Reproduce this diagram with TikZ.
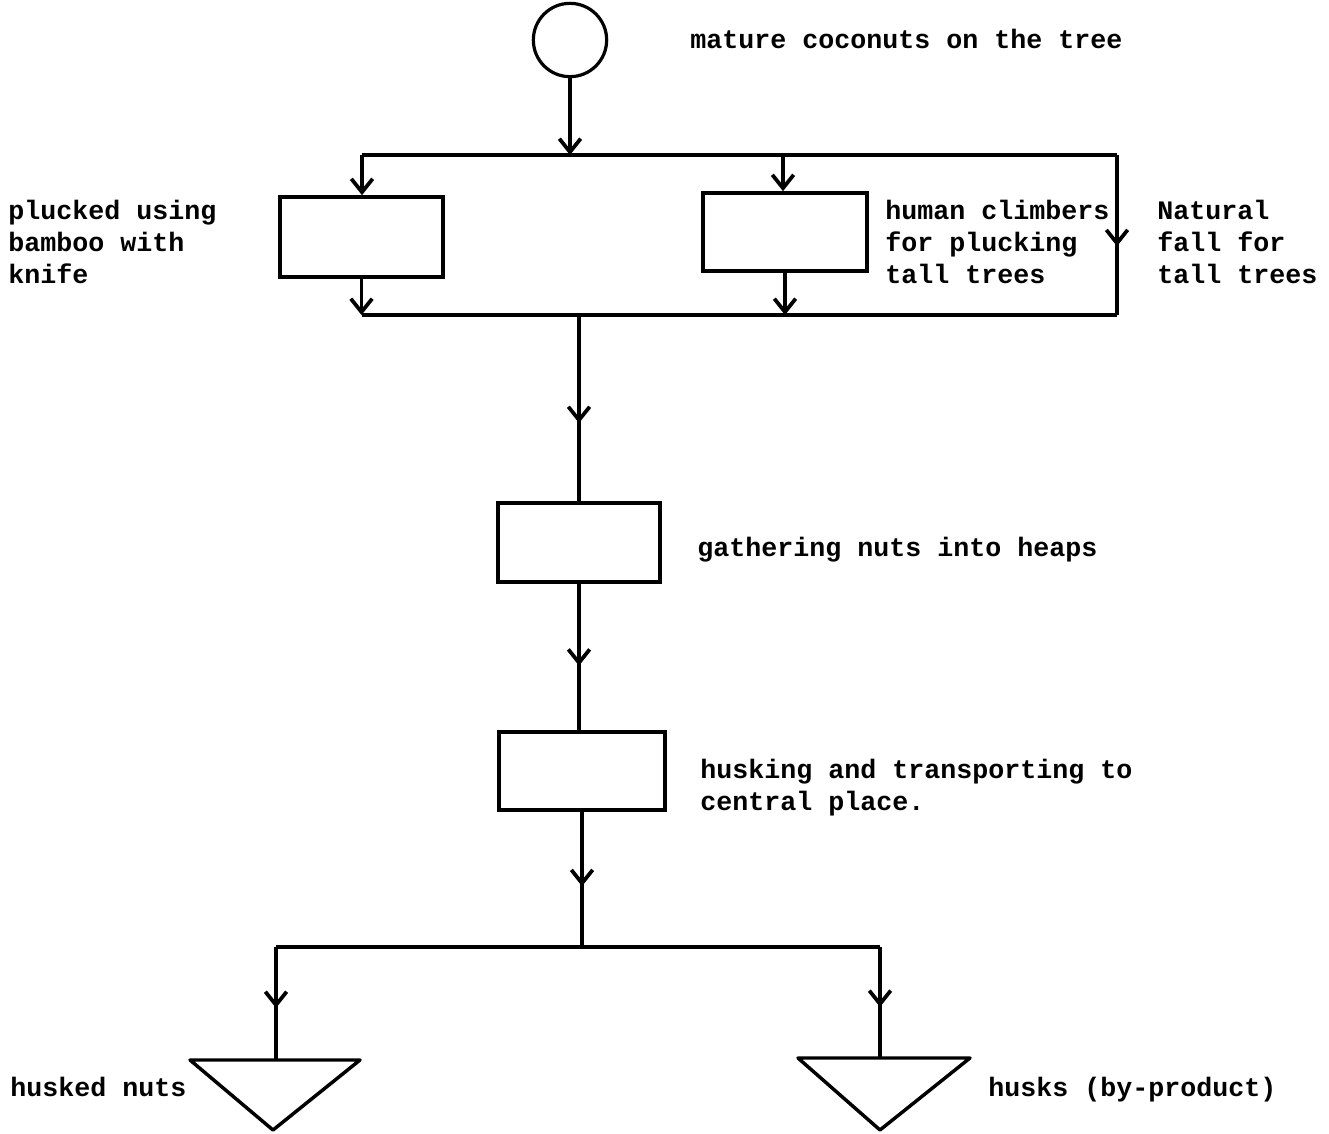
\documentclass[tikz,border=0pt]{standalone}
\usepackage{fontspec}
\setmonofont{Liberation Mono}
\usetikzlibrary{arrows.meta,decorations.markings}
\begin{document}
\begin{tikzpicture}[x=0.75pt,y=-0.75pt,
  vtip/.tip={Straight Barb[length=10pt,width=16pt,line width=2.8pt]},
  conn/.style={line width=2.8pt},
  endarrow/.style={conn,-vtip},
  midarrow/.style={conn,postaction={decorate},
    decoration={markings,mark=at position #1 with {\arrow{vtip}}}},
  stepbox/.style={draw,line width=2.8pt,rectangle,inner sep=0pt},
  label/.style={font=\ttfamily\bfseries\fontsize{20}{24}\selectfont,
    inner sep=0pt,anchor=base west,align=left}]
\useasboundingbox (0,0) rectangle (1329,1133);

% start symbol
\node[draw,circle,line width=2.4pt,minimum size=55pt,inner sep=0pt] (coco) at (570,40) {};

% process boxes
\node[stepbox,minimum width=122pt,minimum height=60pt] (box1) at (361.5,237) {};
\node[stepbox,minimum width=123pt,minimum height=58.5pt] (box2) at (785,232) {};
\node[stepbox,minimum width=121.5pt,minimum height=59pt] (box3) at (579,542.5) {};
\node[stepbox,minimum width=124pt,minimum height=58.5pt] (box4) at (582,771) {};

% branching lines
\coordinate (tl) at (362,155);
\coordinate (tr) at (1117,155);
\coordinate (tj) at (570,155);
\coordinate (t2) at (783,155);
\coordinate (bl) at (362,315);
\coordinate (br) at (1117,315);
\coordinate (bj) at (579,315);
\coordinate (lj) at (582,947);
\coordinate (lb) at (276,947);
\coordinate (rb) at (880,947);

% storage triangles
\coordinate (tri1a) at (190,1060);
\coordinate (tri1b) at (360,1060);
\coordinate (tri1c) at (273,1130);
\coordinate (tri1top) at (276,1060);
\coordinate (tri2a) at (798,1058);
\coordinate (tri2b) at (970,1058);
\coordinate (tri2c) at (880,1130);
\coordinate (tri2top) at (880,1058);
\draw[line width=2.6pt,line join=round] (tri1a) -- (tri1b) -- (tri1c) -- cycle;
\draw[line width=2.6pt,line join=round] (tri2a) -- (tri2b) -- (tri2c) -- cycle;

% connectors
\draw[endarrow] (coco.south) -- (tj);
\draw[conn] (tl) -- (tr);
\draw[endarrow] (tl) -- (tl |- box1.north);
\draw[endarrow] (t2) -- (t2 |- box2.north);
\draw[endarrow] (box1.south) -- (box1.south |- bl);
\draw[endarrow] (box2.south) -- (box2.south |- bl);
\draw[midarrow=0.57] (tr) -- (br);
\draw[conn] (bl) -- (br);
\draw[midarrow=0.58] (bj) -- (bj |- box3.north);
\draw[midarrow=0.56] (box3.south) -- (box3.south |- box4.north);
\draw[midarrow=0.55] (box4.south) -- (lj);
\draw[conn] (lb) -- (rb);
\draw[midarrow=0.54] (lb) -- (tri1top);
\draw[midarrow=0.54] (rb) -- (tri2top);

% texts (multi-line labels are anchored at their last baseline)
\node[label] (t-tree) at (690,48) {mature coconuts on the tree};
\node[label] (t-bamboo) at (8,283) {plucked using\\bamboo with\\knife};
\node[label] (t-climb) at (885,283) {human climbers\\for plucking\\tall trees};
\node[label] (t-fall) at (1157,283) {Natural\\fall for\\tall trees};
\node[label] (t-gather) at (697,556) {gathering nuts into heaps};
\node[label] (t-husk) at (700,810) {husking and transporting to\\central place.};
\node[label] (t-nuts) at (10,1096) {husked nuts};
\node[label] (t-husks) at (988,1096) {husks (by-product)};
\end{tikzpicture}
\end{document}
